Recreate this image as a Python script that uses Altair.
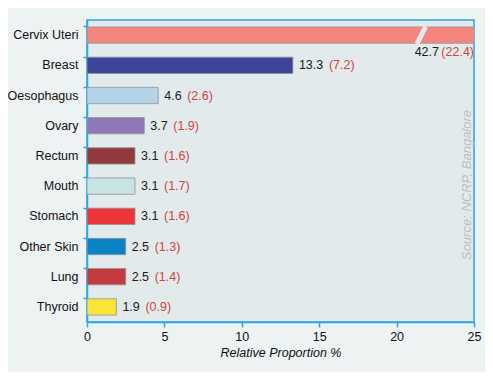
import altair as alt
import pandas as pd

sites = ["Cervix Uteri", "Breast", "Oesophagus", "Ovary", "Rectum", "Mouth",
         "Stomach", "Other Skin", "Lung", "Thyroid"]
proportion = [42.7, 13.3, 4.6, 3.7, 3.1, 3.1, 3.1, 2.5, 2.5, 1.9]
rate = [22.4, 7.2, 2.6, 1.9, 1.6, 1.7, 1.6, 1.3, 1.4, 0.9]
colors = ["#F4857E", "#3D4598", "#B3D3E6", "#8E78B5", "#94393E", "#C8E3E3",
          "#EE343B", "#0B84C6", "#C33B3F", "#F9E43A"]
x_max = 25
source_text = "Source: NCRP, Bangalore"

df = pd.DataFrame({
    "site": sites,
    "v": proportion,
    "r": rate,
    "lab": [f"{v:.1f}" for v in proportion],
    "rlab": [f"({r:.1f})" for r in rate],
})

FONT = "Liberation Sans"
BLUE = "#2AA6E0"
px_per_unit = 387 / x_max

xs = alt.Scale(domain=[0, x_max], nice=False, zero=True)
ys = alt.Scale(domain=sites, paddingInner=0.46, paddingOuter=0.23)

base = alt.Chart(df)

bars = base.mark_bar(stroke="#8f9494", strokeWidth=0.8, clip=True).encode(
    x=alt.X("v:Q", scale=xs,
            axis=alt.Axis(values=[0, 5, 10, 15, 20, 25], title="Relative Proportion %",
                          titleFontStyle="italic", titleFontWeight="normal",
                          titleFont=FONT, titleFontSize=12.5, titleColor="#111",
                          titlePadding=4, labelFlush=False,
                          labelFont=FONT, labelFontSize=12.5, labelColor="#111",
                          labelPadding=3, tickSize=5, tickColor=BLUE, tickWidth=1.5,
                          domainColor=BLUE, domainWidth=1.5, grid=False)),
    y=alt.Y("site:N", scale=ys, sort=sites,
            axis=alt.Axis(title=None, labelFont=FONT, labelFontSize=12.5,
                          labelColor="#111", labelPadding=5, tickSize=4,
                          tickColor=BLUE, tickWidth=1.5, bandPosition=0,
                          domainColor=BLUE, domainWidth=1.5, grid=False)),
    color=alt.Color("site:N", scale=alt.Scale(domain=sites, range=colors), legend=None),
)

small = base.transform_filter(f"datum.v <= {x_max}")

val_text = small.mark_text(align="left", baseline="middle", dx=6, font=FONT,
                           fontSize=12.5, color="#1a1a1a").encode(
    x=alt.X("v:Q", scale=xs), y=alt.Y("site:N", scale=ys, sort=sites), text="lab:N")

rate_text = small.transform_calculate(
    xp=f"datum.v + (6 + 7*length(datum.lab) + 2) / {px_per_unit}"
).mark_text(align="left", baseline="middle", font=FONT, fontSize=12.5,
            color="#D2443F").encode(
    x=alt.X("xp:Q", scale=xs), y=alt.Y("site:N", scale=ys, sort=sites), text="rlab:N")

big = base.transform_filter(f"datum.v > {x_max}").transform_calculate(xe=f"{x_max}")

big_rate = big.mark_text(align="right", baseline="middle", dy=17, font=FONT,
                         fontSize=12.5, color="#D2443F").encode(
    x=alt.X("xe:Q", scale=xs), y=alt.Y("site:N", scale=ys, sort=sites), text="rlab:N")

big_val = big.mark_text(align="right", baseline="middle", dy=17, dx=-35, font=FONT,
                        fontSize=12.5, color="#1a1a1a").encode(
    x=alt.X("xe:Q", scale=xs), y=alt.Y("site:N", scale=ys, sort=sites), text="lab:N")

brk = big.transform_calculate(xb="21.6").mark_point(
    shape="M -0.5 1 L 0.5 -1", size=300, filled=False, stroke="#E3EAEC",
    strokeWidth=5, opacity=1).encode(
    x=alt.X("xb:Q", scale=xs), y=alt.Y("site:N", scale=ys, sort=sites))

src = alt.Chart(pd.DataFrame({"t": [source_text]})).mark_text(
    angle=270, font=FONT, fontStyle="italic", fontSize=13, color="#BDBDBD",
    align="center", baseline="middle").encode(
    x=alt.value(380), y=alt.value(165), text="t:N")

chart = alt.layer(bars, brk, val_text, rate_text, big_rate, big_val, src).properties(
    width=387, height=302,
    background="#EDF2F3",
    autosize=alt.AutoSizeParams(type="none"),
    padding={"left": 79, "top": 12, "right": 11, "bottom": 50},
).configure_view(fill="#E3EAEC", stroke=BLUE, strokeWidth=1.5)

chart.save("out.html", embed_options={"renderer": "svg", "actions": False})
